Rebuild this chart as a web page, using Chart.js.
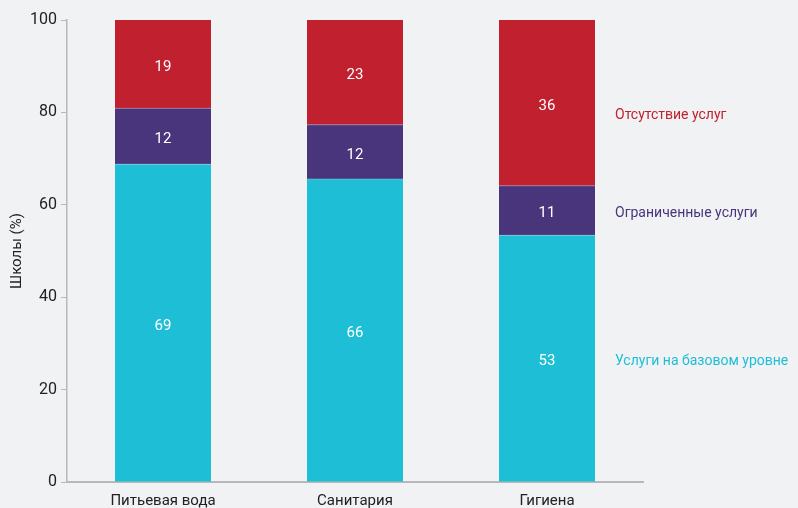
<!DOCTYPE html>
<html>
<head>
  <title>Школы</title>
  <script src="https://cdn.jsdelivr.net/npm/chart.js"></script>
  <style>
    html, body { margin: 0; padding: 0; background: #f1f2f4; }
    #wrap { width: 798px; height: 508px; }
  </style>
</head>
<body>
  <div id="wrap"><canvas id="chart"></canvas></div>
  <script>
    const categories = ['Питьевая вода', 'Санитария', 'Гигиена'];
    const basic = [68.8, 65.6, 53.4];
    const limited = [12.1, 11.7, 10.7];
    const noService = [19.1, 22.7, 35.9];
    const seriesNames = ['Услуги на базовом уровне', 'Ограниченные услуги', 'Отсутствие услуг'];
    const yTicks = [0, 20, 40, 60, 80, 100];

    const FONT = "'Liberation Sans Narrow', 'Roboto', sans-serif";
    const colors = ['#1ebfd6', '#48357c', '#c1202f'];

    // rounded value labels inside each segment
    const valueLabels = {
      id: 'valueLabels',
      afterDatasetsDraw(chart) {
        const ctx = chart.ctx;
        ctx.save();
        ctx.fillStyle = '#ffffff';
        ctx.font = '15px ' + FONT;
        ctx.textAlign = 'center';
        ctx.textBaseline = 'middle';
        chart.data.datasets.forEach((ds, i) => {
          chart.getDatasetMeta(i).data.forEach((bar, j) => {
            const mid = (bar.y + bar.base) / 2 + 3;
            ctx.fillText(String(Math.round(ds.data[j])), bar.x, mid);
          });
        });
        ctx.restore();
      }
    };

    // thin light line where segments meet
    const seams = {
      id: 'seams',
      afterDatasetsDraw(chart) {
        const ctx = chart.ctx;
        ctx.save();
        ctx.fillStyle = 'rgba(255,255,255,0.25)';
        chart.data.datasets.forEach((ds, i) => {
          if (i === 0) return;
          chart.getDatasetMeta(i).data.forEach(bar => {
            ctx.fillRect(bar.x - bar.width / 2, bar.base - 0.5, bar.width, 1);
          });
        });
        ctx.restore();
      }
    };

    // series names to the right of the last bar
    const sideLabels = {
      id: 'sideLabels',
      afterDatasetsDraw(chart) {
        const ctx = chart.ctx;
        const area = chart.chartArea;
        ctx.save();
        ctx.font = '14px ' + FONT;
        ctx.textAlign = 'left';
        ctx.textBaseline = 'middle';
        chart.data.datasets.forEach((ds, i) => {
          const meta = chart.getDatasetMeta(i);
          const bar = meta.data[meta.data.length - 1];
          let mid = (bar.y + bar.base) / 2 + 3;
          if (i === chart.data.datasets.length - 1) mid += (bar.base - bar.y) * 0.06;
          ctx.fillStyle = ds.backgroundColor;
          ctx.fillText(ds.label, area.right - 28, mid);
        });
        ctx.restore();
      }
    };

    const ctx = document.getElementById('chart').getContext('2d');
    new Chart(ctx, {
      type: 'bar',
      data: {
        labels: categories,
        datasets: [
          { label: seriesNames[0], data: basic, backgroundColor: colors[0] },
          { label: seriesNames[1], data: limited, backgroundColor: colors[1] },
          { label: seriesNames[2], data: noService, backgroundColor: colors[2] }
        ]
      },
      options: {
        responsive: true,
        maintainAspectRatio: false,
        animation: false,
        layout: { padding: { top: 20, right: 155, bottom: 0, left: 0 } },
        datasets: { bar: { barPercentage: 0.5, categoryPercentage: 1.0, borderWidth: 0 } },
        plugins: {
          legend: { display: false },
          tooltip: { enabled: false }
        },
        scales: {
          x: {
            stacked: true,
            grid: { display: false },
            border: { display: true, color: '#b8b8b8', width: 2 },
            ticks: { color: '#222', font: { family: FONT, size: 15 }, padding: 2 },
            afterFit: s => { s.height = 26; }
          },
          y: {
            stacked: true,
            min: 0,
            max: 100,
            afterBuildTicks: s => { s.ticks = yTicks.map(v => ({ value: v })); },
            grid: { drawOnChartArea: false, drawTicks: true, tickLength: 6, color: '#b8b8b8' },
            border: { display: true, color: '#b8b8b8', width: 1.5 },
            ticks: { color: '#222', font: { family: FONT, size: 16 }, padding: 4 },
            title: {
              display: true,
              text: 'Школы (%)',
              color: '#222',
              font: { family: FONT, size: 15 },
              padding: { top: 8, bottom: 0 }
            },
            afterFit: s => { s.width = 67; }
          }
        }
      },
      plugins: [seams, valueLabels, sideLabels]
    });
  </script>
</body>
</html>
